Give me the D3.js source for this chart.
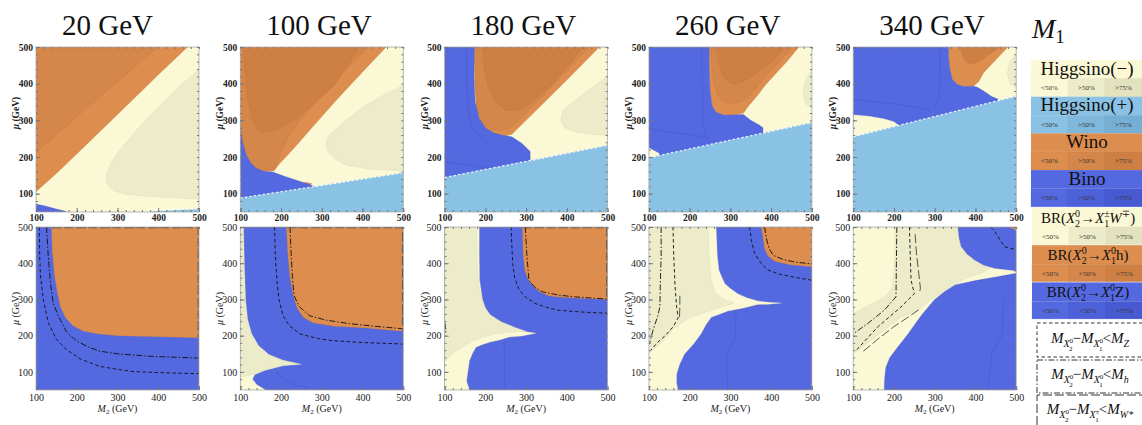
<!DOCTYPE html>
<html><head><meta charset="utf-8">
<script src="https://cdn.jsdelivr.net/npm/d3@7"></script>
<style>body{margin:0;background:#fff;} svg{display:block;font-family:"Liberation Serif","DejaVu Serif",serif}</style>
</head><body><svg id="c" width="1142" height="425"></svg>
<script>
// ---------------- data ----------------
const massM1 = ["20 GeV","100 GeV","180 GeV","260 GeV","340 GeV"];
const axisTicks = [100,200,300,400,500];
const m2Domain = [100,500], muDomain = [50,500];
const full = [[100,50],[500,50],[500,500],[100,500]];

// top row: [category, share level, boundary (M2, mu)]
const top20 = [
 ["H-",0,full],
 ["H-",1,[[500,440],[450,390],[400,335],[350,277],[310,225],[285,185],[272,150],[275,125],[290,108],[320,98],[380,92],[450,88],[500,86]]],
 ["W",0,[[100,500],[100,105],[150,155],[200,208],[250,262],[300,316],[350,370],[400,424],[472,500]]],
 ["W",1,[[100,500],[100,212],[200,310],[300,405],[398,500]]],
 ["B",0,[[100,50],[100,72],[125,66],[150,58],[170,53],[175,50]]],
 ["H+",0,[[380,50],[500,50],[500,58],[450,55],[400,52]]]
];
const top100 = [
 ["H-",0,full],
 ["H-",1,[[500,395],[450,368],[400,336],[350,292],[320,262],[310,240],[315,215],[335,192],[365,176],[420,167],[500,162]]],
 ["W",0,[[100,500],[458,500],[400,432],[334,353],[280,285],[230,222],[195,180],[182,162],[100,160]]],
 ["W",1,[[100,500],[415,500],[360,440],[300,370],[250,305],[215,250],[195,200],[185,165],[100,165]]],
 ["W",2,[[108,500],[112,420],[120,350],[130,300],[142,275],[160,268],[190,275],[230,300],[280,345],[330,395],[393,500]]],
 ["W",0,[[250,128],[262,131],[276,127],[266,120]]],
 ["B",0,[[100,290],[103,255],[108,230],[115,205],[125,185],[138,170],[155,162],[180,159],[210,147],[240,136],[265,127],[280,120],[280,90],[100,80]]],
 ["H+",0,[[100,88],[200,105],[300,122],[400,140],[500,157],[500,50],[100,50]]]
];
const top180 = [
 ["H-",0,full],
 ["H-",1,[[500,421],[450,380],[410,345],[390,325],[385,300],[395,280],[420,268],[460,262],[500,260]]],
 ["W",0,[[173,500],[480,500],[440,455],[400,410],[350,355],[300,300],[265,262],[250,258],[232,260],[210,268],[190,290],[178,330],[174,400]]],
 ["W",1,[[173,500],[455,500],[400,435],[350,378],[300,320],[262,280],[240,272],[215,275],[195,290],[180,330],[175,400]]],
 ["W",2,[[194,500],[198,440],[208,390],[225,350],[250,328],[275,326],[310,345],[360,395],[400,445],[440,500]]],
 ["B",0,[[100,500],[173,500],[172,420],[175,350],[185,305],[200,280],[220,266],[240,260],[265,255],[290,237],[310,215],[310,150],[100,130]]],
 ["H+",0,[[100,144],[500,232],[500,50],[100,50]]]
];
const top260 = [
 ["H-",0,full],
 ["H-",1,[[500,440],[485,410],[478,375],[485,345],[500,332]]],
 ["W",0,[[248,500],[468,500],[440,462],[411,427],[385,395],[363,363],[345,340],[332,320],[310,314],[285,314],[265,322],[255,340],[250,380],[248,440]]],
 ["W",1,[[252,500],[451,500],[420,460],[390,425],[360,385],[335,355],[310,345],[285,350],[268,370],[258,410],[254,460]]],
 ["W",2,[[266,500],[270,460],[280,425],[295,405],[310,399],[330,405],[360,425],[400,460],[435,500]]],
 ["B",0,[[100,500],[248,500],[248,440],[250,380],[255,340],[265,322],[285,314],[332,316],[350,300],[370,288],[380,280],[380,200],[100,200]]],
 ["H-",0,[[100,190],[100,225],[112,218],[125,210],[125,190]]],
 ["H+",0,[[100,198],[500,294],[500,50],[100,50]]]
];
const top340 = [
 ["H-",0,full],
 ["H-",1,[[500,480],[485,460],[478,430],[485,400],[500,390]]],
 ["W",0,[[334,500],[480,500],[450,465],[420,430],[408,405],[395,393],[371,392],[355,398],[343,412],[337,440],[334,470]]],
 ["W",2,[[363,500],[370,470],[380,457],[395,455],[415,465],[440,485],[460,500]]],
 ["B",0,[[100,500],[334,500],[334,470],[337,440],[343,412],[355,398],[371,392],[395,393],[405,390],[420,380],[440,365],[455,358],[455,250],[100,250]]],
 ["H-",0,[[100,240],[100,315],[140,311],[175,304],[200,296],[220,280],[220,240]]],
 ["H+",0,[[100,255],[500,366],[500,50],[100,50]]]
];
// edges of the Higgsino(+) region (top row)
const edgeTop = [
 [[380,57],[500,58]],
 [[100,88],[500,157]],
 [[100,144],[500,232]],
 [[100,198],[500,294]],
 [[100,255],[500,366]]
];

// bottom row: branching ratio regions
const bot20 = [
 ["Z",0,full],
 ["h",0,[[138,500],[500,500],[500,194],[400,197],[300,200],[250,205],[215,213],[190,228],[172,250],[160,280],[152,320],[145,370],[140,430]]]
];
const bot100 = [
 ["Z",0,full],
 ["W",0,[[100,500],[108,500],[110,400],[113,300],[118,245],[128,205],[145,172],[170,148],[205,132],[250,121],[205,117],[160,104],[135,92],[130,80],[140,65],[155,55],[163,50],[100,50]]],
 ["W",1,[[100,500],[106,500],[108,400],[111,300],[116,245],[126,205],[143,170],[168,146],[200,133],[240,122],[200,118],[165,108],[135,95],[100,85]]],
 ["h",0,[[213,500],[500,500],[500,212],[400,222],[330,226],[280,235],[255,250],[240,275],[230,310],[222,360],[217,420]]]
];
const bot180 = [
 ["Z",0,full],
 ["W",0,[[100,500],[185,500],[185,420],[186,353],[193,300],[202,270],[215,250],[234,233],[260,220],[283,214],[324,207],[290,199],[259,196],[235,188],[210,182],[190,174],[177,168],[168,150],[161,131],[157,100],[154,75],[161,50],[100,50]]],
 ["W",1,[[100,500],[178,500],[180,400],[185,330],[195,285],[212,258],[240,238],[275,222],[300,212],[260,210],[220,203],[185,193],[160,180],[130,160],[100,128]]],
 ["h",0,[[291,500],[500,500],[500,300],[420,304],[380,307],[356,310],[335,320],[318,335],[305,355],[297,380],[293,420]]]
];
const bot260 = [
 ["Z",0,full],
 ["W",0,[[100,500],[265,500],[268,420],[272,380],[286,344],[300,330],[318,316],[340,305],[367,296],[395,292],[425,290],[395,287],[367,286],[330,276],[294,268],[270,258],[253,251],[240,230],[228,205],[210,178],[187,149],[175,120],[168,94],[168,70],[171,50],[100,50]]],
 ["W",1,[[100,500],[245,500],[248,420],[252,360],[262,320],[285,300],[310,290],[280,280],[240,265],[200,250],[160,220],[130,180],[100,150]]],
 ["h",0,[[376,500],[500,500],[500,390],[450,395],[410,405],[392,420],[384,440],[380,470]]]
];
const bot340 = [
 ["W",0,full],
 ["W",1,[[100,261],[140,285],[175,305],[195,330],[201,380],[203,500],[380,500],[372,470],[372,440],[385,415],[410,400],[440,390],[420,375],[380,360],[340,335],[320,320],[290,300],[260,270],[217,251],[170,210],[130,175],[100,149]]],
 ["Z",0,[[176,50],[500,50],[500,372],[450,362],[400,352],[350,340],[324,321],[300,300],[291,288],[270,260],[258,242],[235,205],[209,168],[190,140],[180,112],[177,80]]],
 ["Z",0,[[357,500],[500,500],[500,379],[447,386],[420,395],[398,409],[380,425],[365,446],[360,470]]],
 ["h",0,[[486,500],[500,500],[500,490]]]
];
// mass-difference contours: [kind, points]  Z: dashed, h: dot-dashed, W: long dashed
const lines20 = [
 ["Z",[[108,500],[109,420],[111,365],[118,300],[130,236],[150,190],[175,161],[210,135],[257,115],[300,107],[338,101],[400,98],[500,95]]],
 ["h",[[126,500],[130,420],[135,350],[142,290],[155,254],[175,210],[200,185],[230,168],[257,157],[300,150],[379,143],[500,138]]],
 ["W",[[140,498],[498,498],[498,196]]]
];
const lines100 = [
 ["Z",[[184,500],[186,420],[190,350],[195,300],[205,255],[220,228],[246,205],[290,192],[328,186],[400,181],[500,177]]],
 ["h",[[222,500],[225,420],[228,360],[232,310],[245,280],[270,255],[310,243],[369,233],[430,226],[500,219]]],
 ["W",[[215,498],[498,498],[498,214]]]
];
const lines180 = [
 ["Z",[[263,500],[265,450],[267,400],[272,360],[283,326],[300,305],[324,288],[350,278],[380,270],[440,265],[500,262]]],
 ["h",[[298,500],[302,420],[307,353],[320,335],[340,321],[380,312],[421,307],[500,301]]],
 ["h",[[101,235],[102,215],[104,205]]],
 ["W",[[292,498],[498,498],[498,302]]]
];
const lines260 = [
 ["Z",[[159,500],[161,420],[164,340],[168,280],[172,250],[160,225],[140,200],[120,180],[105,160]]],
 ["h",[[130,500],[130,420],[128,340],[127,280],[122,255],[110,215],[102,180]]],
 ["W",[[176,310],[176,280],[175,250]]],
 ["Z",[[347,500],[352,460],[359,428],[375,400],[392,381],[420,370],[449,363],[500,353]]],
 ["h",[[384,500],[388,470],[395,440],[405,422],[430,410],[460,403],[500,398]]]
];
const lines340 = [
 ["h",[[207,500],[206,400],[205,307],[176,270],[135,233],[100,205]]],
 ["Z",[[238,500],[240,420],[242,353],[250,316],[217,279],[160,224],[107,159]]],
 ["W",[[252,480],[255,430],[260,380],[265,330],[262,318]]],
 ["W",[[125,157],[160,190],[200,225],[240,255],[265,275]]],
 ["Z",[[438,500],[450,483],[471,446],[500,437]]]
];
// faint internal boundaries inside the blue regions
const inner = [
 [], [], [[[153,500],[155,400],[158,330],[165,290],[180,265],[206,240]],[[100,186],[150,180],[206,168]]],
 [[[230,500],[231,400],[233,300],[240,255]],[[100,276],[170,266],[250,253]]],
 [[[314,500],[314,420],[310,360],[300,332]],[[100,357],[200,345],[290,329]]],
 [], [[[188,100],[205,80],[235,63],[270,55]]], [[[246,182],[247,120],[248,50]]],
 [[[314,270],[312,196],[302,168],[290,149],[294,50]]], [[[470,300],[465,200],[440,150],[430,50]]]
];

const topLegend = [["H-","Higgsino(−)"],["H+","Higgsino(+)"],["W","Wino"],["B","Bino"]];
const shareLabels = ["<50%",">50%",">75%"];

// ---------------- style ----------------
const pal = {
 "H-":["#FBF9D5","#EDECCA","#E3E2BF"],
 "H+":["#8AC2E6","#80B8DC","#77AFD4"],
 "W":["#DD8D4E","#D5864A","#CD7F44"],
 "B":["#5468E0","#4D61D9","#475AD1"]
};
const palBot = {"W":pal["H-"],"h":pal["W"],"Z":pal["B"]};
const dashes = {"Z":"3.5,2.5","h":"6,2,1.5,2","W":"9,3"};

const svg = d3.select("#c");
const topSets = [top20,top100,top180,top260,top340];
const botSets = [bot20,bot100,bot180,bot260,bot340];
const botLines = [lines20,lines100,lines180,lines260,lines340];

function panel(col,row,layers,lines,colors){
  const left = 36 + col*204.3, W = 163;
  const top = row===0?47:227, H = row===0?165:163;
  const x = d3.scaleLinear(m2Domain,[left,left+W]);
  const y = d3.scaleLinear(muDomain,[top+H,top]);
  const id = "clip"+row+col;
  svg.append("clipPath").attr("id",id).append("rect").attr("x",left).attr("y",top).attr("width",W).attr("height",H);
  const g = svg.append("g").attr("clip-path",`url(#${id})`);
  const ln = d3.line().x(d=>x(d[0])).y(d=>y(d[1]));
  layers.forEach(([c,l,pts])=>{
    const f = colors[c][l];
    g.append("path").attr("d",ln(pts)+"Z").attr("fill",f)
      .attr("stroke",d3.color(f).darker(0.35)).attr("stroke-width",0.5).attr("stroke-opacity",0.6);
  });
  (inner[row*5+col]||[]).forEach(pts=>{
    g.append("path").attr("d",ln(pts)).attr("fill","none").attr("stroke","#3a4cc0").attr("stroke-width",0.6).attr("opacity",0.55);
  });
  if(row===0){
    g.append("path").attr("d",ln(edgeTop[col])).attr("fill","none").attr("stroke","#ffffff").attr("stroke-width",1.3).attr("stroke-opacity",0.85).attr("stroke-dasharray","2.5,2");
  }
  (lines||[]).forEach(([k,pts])=>{
    g.append("path").attr("d",ln(pts)).attr("fill","none").attr("stroke",k==="W"?"#444":"#111")
      .attr("stroke-width",0.9).attr("stroke-dasharray",dashes[k]);
  });
  // frame
  svg.append("rect").attr("x",left).attr("y",top).attr("width",W).attr("height",H)
    .attr("fill","none").attr("stroke","#aaa").attr("stroke-width",0.8);
  const minor = d3.range(100,501,20), minorY = d3.range(60,501,20);
  const fs = row===0?9.5:10, fw = row===0?"bold":"normal";
  const style = s=>{s.select(".domain").remove(); s.selectAll("line").attr("stroke","#777"); s.selectAll("text").attr("font-family","Liberation Serif").attr("font-size",fs).attr("font-weight",fw).attr("fill","#222");};
  svg.append("g").attr("transform",`translate(${left},0)`).call(d3.axisLeft(y).tickValues(axisTicks).tickSize(-4).tickPadding(3)).call(style);
  svg.append("g").attr("transform",`translate(${left},0)`).call(d3.axisLeft(y).tickValues(minorY).tickSize(-2).tickFormat("")).call(style);
  svg.append("g").attr("transform",`translate(0,${top+H})`).call(d3.axisBottom(x).tickValues(axisTicks).tickSize(-4).tickPadding(row===0?2:4)).call(style);
  svg.append("g").attr("transform",`translate(0,${top+H})`).call(d3.axisBottom(x).tickValues(minor).tickSize(-2).tickFormat("")).call(style);
  svg.append("g").attr("transform",`translate(0,${top})`).call(d3.axisTop(x).tickValues(minor).tickSize(-2).tickFormat("")).call(style);
  svg.append("g").attr("transform",`translate(${left+W},0)`).call(d3.axisRight(y).tickValues(minorY).tickSize(-2).tickFormat("")).call(style);
  // axis titles
  const cy = row===0? top+66 : top+H/2;
  const t = svg.append("text").attr("transform",`translate(${left-17},${cy}) rotate(-90)`).attr("text-anchor","middle")
    .attr("font-size",row===0?9.5:10).attr("font-weight",fw).attr("fill","#222");
  t.append("tspan").text("μ").attr("font-style","italic");
  t.append("tspan").text(" (GeV)");
  if(row===1){
    const xt = svg.append("text").attr("x",left+W/2).attr("y",412).attr("text-anchor","middle").attr("font-size",10).attr("fill","#222");
    xt.append("tspan").text("M").attr("font-style","italic");
    xt.append("tspan").text("2").attr("font-size",7).attr("dy",2);
    xt.append("tspan").text(" (GeV)").attr("dy",-2);
  }
  if(row===0){
    svg.append("text").attr("x",left+26).attr("y",35).attr("font-size",29).attr("fill","#111").text(massM1[col]);
  }
}
topSets.forEach((s,i)=>panel(i,0,s,null,pal));
botSets.forEach((s,i)=>panel(i,1,s,botLines[i],palBot));

// ---------------- legends ----------------
const lx = 1031, cw = 37;
const mt = svg.append("text").attr("x",1032).attr("y",38).attr("font-size",28).attr("fill","#111");
mt.append("tspan").text("M").attr("font-style","italic");
mt.append("tspan").text("1").attr("font-size",19).attr("dy",5);

topLegend.forEach(([k,name],i)=>{
  const y0 = 60 + i*36.7;
  svg.append("rect").attr("x",lx).attr("y",y0).attr("width",111).attr("height",18.5).attr("fill",pal[k][0]);
  shareLabels.forEach((s,j)=>{
    svg.append("rect").attr("x",lx+j*cw).attr("y",y0+18.5).attr("width",cw).attr("height",18.2).attr("fill",pal[k][j])
      .attr("stroke",d3.color(pal[k][j]).darker(0.3)).attr("stroke-width",0.4).attr("stroke-dasharray","1,1");
    svg.append("text").attr("x",lx+j*cw+cw/2).attr("y",y0+30).attr("text-anchor","middle").attr("font-size",7).attr("fill","#333").text(s);
  });
  svg.append("text").attr("x",lx+56).attr("y",y0+14.5).attr("text-anchor","middle").attr("font-size",19).attr("fill","#111").text(name);
});

function rich(sel, parts){
  let cur = 0;
  parts.forEach(p=>{
    const o = p.o||0;
    const t = sel.append("tspan").text(p.t).attr("dy",o-cur);
    cur = o;
    if(p.s) t.attr("font-size",p.s);
    if(p.i) t.attr("font-style","italic");
    if(p.dx) t.attr("dx",p.dx);
  });
}
const botLegend = [
 ["W",[{t:"BR("},{t:"X",i:1},{t:"0",o:-6,s:10},{t:"2",o:4,s:10,dx:-5},{t:"→"},{t:"X",i:1},{t:"±",o:-6,s:10},{t:"1",o:4,s:10,dx:-5.5},{t:"W",i:1},{t:"∓",o:-6,s:10},{t:")"}]],
 ["h",[{t:"BR("},{t:"X",i:1},{t:"0",o:-6,s:10},{t:"2",o:4,s:10,dx:-5},{t:"→"},{t:"X",i:1},{t:"0",o:-6,s:10},{t:"1",o:4,s:10,dx:-5},{t:"h)"}]],
 ["Z",[{t:"BR("},{t:"X",i:1},{t:"0",o:-6,s:10},{t:"2",o:4,s:10,dx:-5},{t:"→"},{t:"X",i:1},{t:"0",o:-6,s:10},{t:"1",o:4,s:10,dx:-5},{t:"Z)"}]]
];
botLegend.forEach(([k,parts],i)=>{
  const y0 = 208 + i*37.2;
  const c = palBot[k];
  svg.append("rect").attr("x",lx+1).attr("y",y0).attr("width",111).attr("height",19).attr("fill",c[0]);
  shareLabels.forEach((s,j)=>{
    svg.append("rect").attr("x",lx+1+j*cw).attr("y",y0+19).attr("width",cw).attr("height",17.5).attr("fill",c[j])
      .attr("stroke",d3.color(c[j]).darker(0.3)).attr("stroke-width",0.4).attr("stroke-dasharray","1,1");
    svg.append("text").attr("x",lx+1+j*cw+cw/2).attr("y",y0+31).attr("text-anchor","middle").attr("font-size",7).attr("fill","#333").text(s);
  });
  const t = svg.append("text").attr("x",lx+57).attr("y",y0+15).attr("text-anchor","middle").attr("font-size",15).attr("fill","#111");
  rich(t,parts);
});
function massText(y, last){
  const t = svg.append("text").attr("x",1090).attr("y",y).attr("text-anchor","middle").attr("font-size",15).attr("fill","#111");
  rich(t,[{t:"M",i:1},{t:"X",o:4,s:10,i:1},{t:"0",o:0,s:7},{t:"2",o:8,s:7,dx:-4},{t:"−",o:0},{t:"M",i:1},{t:"X",o:4,s:10,i:1},{t:last[0],o:0,s:7},{t:"1",o:8,s:7,dx:-4},{t:"<",o:0},{t:"M",i:1},{t:last[1],o:4,s:10,i:1}]);
}
svg.append("rect").attr("x",1037).attr("y",323).attr("width",110).attr("height",34).attr("fill","none").attr("stroke","#333").attr("stroke-width",1).attr("stroke-dasharray",dashes.Z);
massText(343,["0","Z"]);
svg.append("rect").attr("x",1037).attr("y",360).attr("width",110).attr("height",33).attr("fill","none").attr("stroke","#333").attr("stroke-width",1).attr("stroke-dasharray",dashes.h);
massText(379,["0","h"]);
svg.append("path").attr("d","M1037,425 V395 H1142").attr("fill","none").attr("stroke","#333").attr("stroke-width",1).attr("stroke-dasharray",dashes.W);
massText(414,["±","W*"]);
</script></body></html>
